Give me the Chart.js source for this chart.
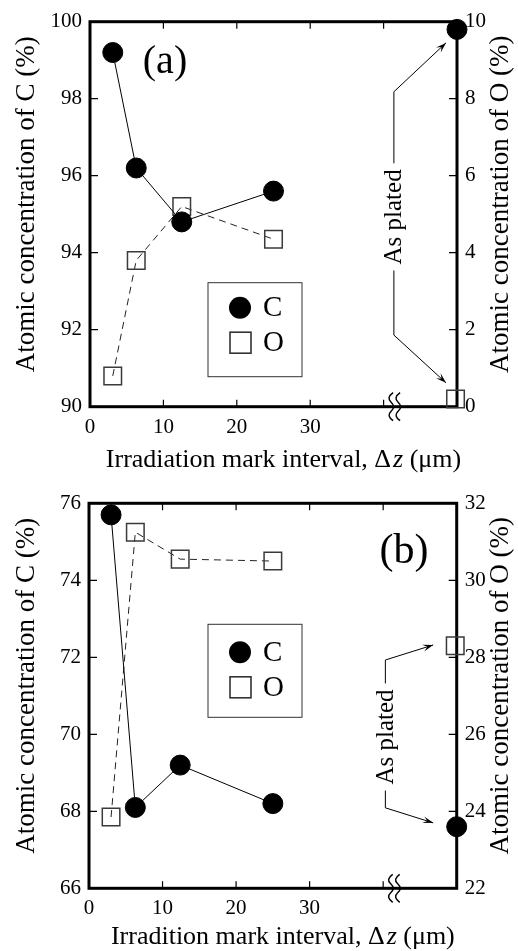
<!DOCTYPE html>
<html>
<head>
<meta charset="utf-8">
<script src="https://cdn.jsdelivr.net/npm/chart.js@4.4.1/dist/chart.umd.min.js"></script>
<style>
    html, body { margin: 0; padding: 0; background: #fff; }
    .panel { position: relative; width: 518px; }
    #panel-a { height: 475px; }
    #panel-b { height: 476px; }
</style>
</head>
<body>
<div class="panel" id="panel-a"><canvas id="chart-a"></canvas></div>
<div class="panel" id="panel-b"><canvas id="chart-b"></canvas></div>
<script>
// shared x axis
const xTicks = [0, 10, 20, 30, 40, 50];
const xTickLabels = ['0', '10', '20', '30', '', ''];

// panel (a)
const intervalsA = [3.1, 6.3, 12.5, 25];
const carbonA = [99.2, 96.2, 94.8, 95.6];
const oxygenA = [0.8, 3.8, 5.2, 4.35];
const platedCarbonXA = [50];
const platedCarbonA = [99.8];
const platedOxygenXA = [49.8];
const platedOxygenA = [0.2];
const carbonTicksA = [90, 92, 94, 96, 98, 100];
const oxygenTicksA = [0, 2, 4, 6, 8, 10];

// panel (b)
const intervalsB = [3.0, 6.3, 12.4, 25];
const carbonB = [75.7, 68.1, 69.2, 68.2];
const oxygenB = [23.85, 31.25, 30.55, 30.5];
const platedCarbonXB = [50];
const platedCarbonB = [67.6];
const platedOxygenXB = [49.8];
const platedOxygenB = [28.3];
const carbonTicksB = [66, 68, 70, 72, 74, 76];
const oxygenTicksB = [22, 24, 26, 28, 30, 32];

const SERIF = '"Liberation Serif", "DejaVu Serif", serif';

const toPoints = (xs, ys) => xs.map((x, i) => ({ x, y: ys[i] }));

// frame, inward ticks, titles, axis break, legend box, "As plated" arrows
const panelDecor = {
    id: 'panelDecor',
    beforeDatasetsDraw(chart, args, opts) {
        const { ctx, chartArea: a, scales } = chart;
        ctx.save();
        ctx.strokeStyle = '#000';
        ctx.lineWidth = 1.2;
        ctx.beginPath();
        xTicks.forEach(v => {
            if (v <= 0 || v >= 50) return;
            const px = scales.x.getPixelForValue(v);
            ctx.moveTo(px, a.bottom); ctx.lineTo(px, a.bottom - 7);
            ctx.moveTo(px, a.top); ctx.lineTo(px, a.top + 7);
        });
        opts.leftTicks.slice(1, -1).forEach(v => {
            const py = scales.y.getPixelForValue(v);
            ctx.moveTo(a.left, py); ctx.lineTo(a.left + 8, py);
        });
        opts.rightTicks.slice(1, -1).forEach(v => {
            const py = scales.y2.getPixelForValue(v);
            ctx.moveTo(a.right, py); ctx.lineTo(a.right - 8, py);
        });
        ctx.stroke();

        ctx.lineWidth = 3;
        ctx.strokeRect(a.left, a.top, a.right - a.left, a.bottom - a.top);

        // axis break on the bottom edge
        const bx = scales.x.getPixelForValue(opts.breakAt);
        ctx.lineWidth = 1.5;
        [-3.5, 3.5].forEach(dx => {
            const x = bx + dx, cy = a.bottom;
            ctx.beginPath();
            ctx.moveTo(x + 2, cy - 14);
            ctx.quadraticCurveTo(x - 5, cy - 9, x, cy - 4.5);
            ctx.quadraticCurveTo(x + 5, cy, x, cy + 4.5);
            ctx.quadraticCurveTo(x - 5, cy + 9, x + 2, cy + 14);
            ctx.stroke();
        });
        ctx.restore();
    },
    afterDatasetsDraw(chart, args, opts) {
        const { ctx, chartArea: a, scales } = chart;
        ctx.save();
        ctx.fillStyle = '#000';
        ctx.strokeStyle = '#000';

        // legend box
        const lg = opts.legend;
        const lx = a.left + lg.dx, ly = a.top + lg.dy;
        ctx.lineWidth = 1;
        ctx.strokeStyle = '#333';
        ctx.strokeRect(lx, ly, lg.w, lg.h);
        ctx.beginPath();
        ctx.arc(lx + 32, ly + lg.rowC, 11, 0, Math.PI * 2);
        ctx.fill();
        ctx.lineWidth = 1.6;
        ctx.strokeRect(lx + 22, ly + lg.rowO - 10.5, 21, 21);
        ctx.font = '29px ' + SERIF;
        ctx.textBaseline = 'middle';
        ctx.textAlign = 'left';
        ctx.fillText('C', lx + 55, ly + lg.rowC + 1);
        ctx.fillText('O', lx + 55, ly + lg.rowO + 1);

        // "As plated" label with arrows
        const an = opts.plated;
        const X = scales.x.getPixelForValue(an.x);
        const tipX = scales.x.getPixelForValue(an.tipX);
        const yTop = scales.y.getPixelForValue(an.top);
        const yBot = scales.y.getPixelForValue(an.bottom);
        const yText = scales.y.getPixelForValue(an.textY);
        const tipTop = scales.y.getPixelForValue(an.tipTop);
        const tipBot = scales.y.getPixelForValue(an.tipBottom);
        ctx.font = '25px ' + SERIF;
        const half = ctx.measureText('As plated').width / 2 + 6;
        ctx.strokeStyle = '#000';
        ctx.lineWidth = 1;
        ctx.beginPath();
        ctx.moveTo(X, yText - half); ctx.lineTo(X, yTop); ctx.lineTo(tipX, tipTop);
        ctx.moveTo(X, yText + half); ctx.lineTo(X, yBot); ctx.lineTo(tipX, tipBot);
        ctx.stroke();
        [[X, yTop, tipX, tipTop], [X, yBot, tipX, tipBot]].forEach(([x0, y0, x1, y1]) => {
            const ang = Math.atan2(y1 - y0, x1 - x0);
            ctx.beginPath();
            ctx.moveTo(x1, y1);
            ctx.lineTo(x1 - 11 * Math.cos(ang - 0.32), y1 - 11 * Math.sin(ang - 0.32));
            ctx.lineTo(x1 - 6 * Math.cos(ang), y1 - 6 * Math.sin(ang));
            ctx.lineTo(x1 - 11 * Math.cos(ang + 0.32), y1 - 11 * Math.sin(ang + 0.32));
            ctx.closePath();
            ctx.fill();
        });
        ctx.save();
        ctx.translate(X + 1, yText);
        ctx.rotate(-Math.PI / 2);
        ctx.textAlign = 'center';
        ctx.textBaseline = 'middle';
        ctx.fillText('As plated', 0, 0);
        ctx.restore();

        // panel letter
        ctx.font = opts.tag.size + 'px ' + SERIF;
        ctx.textAlign = 'center';
        ctx.textBaseline = 'middle';
        ctx.fillText(opts.tag.text, opts.tag.x, opts.tag.y);

        // axis titles
        const midY = (a.top + a.bottom) / 2 - 10;
        ctx.font = '27px ' + SERIF;
        [[27, opts.leftTitle], [501, opts.rightTitle]].forEach(([tx, text]) => {
            ctx.save();
            ctx.translate(tx, midY);
            ctx.rotate(-Math.PI / 2);
            ctx.fillText(text, 0, 0);
            ctx.restore();
        });

        const parts = [
            [opts.xTitle + ' \u0394', 'normal '],
            ['z', 'italic '],
            [' (\u03bcm)', 'normal ']
        ];
        const widths = parts.map(([t, st]) => { ctx.font = st + '26px ' + SERIF; return ctx.measureText(t).width; });
        const total = widths.reduce((s, w) => s + w, 0) + 2;
        let cx = (a.left + a.right) / 2 + 10 - total / 2;
        ctx.textAlign = 'left';
        parts.forEach(([t, st], i) => {
            ctx.font = st + '26px ' + SERIF;
            ctx.fillText(t, cx, opts.xTitleY);
            cx += widths[i] + (i === 0 ? 2 : 0);
        });
        ctx.restore();
    }
};

function buildPanel(canvasId, p) {
    const tickFont = { family: SERIF, size: 21 };
    const setTicks = arr => scale => { scale.ticks = arr.map(v => ({ value: v })); };
    const carbonStyle = {
        yAxisID: 'y', borderColor: '#000', borderWidth: 1,
        pointStyle: 'circle', pointRadius: 10, pointBorderWidth: 1,
        pointBackgroundColor: '#000', pointBorderColor: '#000', clip: false
    };
    const oxygenStyle = {
        yAxisID: 'y2', borderColor: '#222', borderWidth: 1, borderDash: [7, 5],
        pointStyle: 'rect', pointRadius: 12.4, pointBorderWidth: 1.5,
        pointBackgroundColor: 'rgba(0,0,0,0)', pointBorderColor: '#3a3a3a', clip: false
    };

    return new Chart(document.getElementById(canvasId), {
        type: 'scatter',
        data: {
            datasets: [
                { ...carbonStyle, label: 'C', showLine: true, data: toPoints(p.x, p.carbon) },
                { ...carbonStyle, label: 'C as plated', showLine: false, data: toPoints(p.platedCX, p.platedC) },
                { ...oxygenStyle, label: 'O', showLine: true, data: toPoints(p.x, p.oxygen) },
                { ...oxygenStyle, label: 'O as plated', showLine: false, data: toPoints(p.platedOX, p.platedO) }
            ]
        },
        options: {
            responsive: true,
            maintainAspectRatio: false,
            animation: false,
            events: [],
            layout: { padding: { top: p.areaTop, left: 0, right: 0, bottom: 0 } },
            plugins: {
                legend: { display: false },
                tooltip: { enabled: false },
                panelDecor: p.decor
            },
            scales: {
                x: {
                    type: 'linear', position: 'bottom', min: 0, max: 50,
                    afterBuildTicks: setTicks(xTicks),
                    afterFit: s => { s.height = p.xHeight; },
                    grid: { display: false, drawTicks: false },
                    border: { display: false },
                    ticks: {
                        font: tickFont, color: '#000', padding: 8, maxRotation: 0, autoSkip: false,
                        callback: v => xTickLabels[xTicks.indexOf(v)]
                    }
                },
                y: {
                    type: 'linear', position: 'left', min: p.leftTicks[0], max: p.leftTicks[p.leftTicks.length - 1],
                    afterBuildTicks: setTicks(p.leftTicks),
                    afterFit: s => { s.width = p.leftWidth; },
                    grid: { display: false, drawTicks: false },
                    border: { display: false },
                    ticks: { font: tickFont, color: '#000', padding: 8 }
                },
                y2: {
                    type: 'linear', position: 'right', min: p.rightTicks[0], max: p.rightTicks[p.rightTicks.length - 1],
                    afterBuildTicks: setTicks(p.rightTicks),
                    afterFit: s => { s.width = p.rightWidth; },
                    grid: { display: false, drawTicks: false },
                    border: { display: false },
                    ticks: { font: tickFont, color: '#000', padding: 8 }
                }
            }
        },
        plugins: [panelDecor]
    });
}

buildPanel('chart-a', {
    x: intervalsA, carbon: carbonA, oxygen: oxygenA,
    platedCX: platedCarbonXA, platedC: platedCarbonA,
    platedOX: platedOxygenXA, platedO: platedOxygenA,
    leftTicks: carbonTicksA, rightTicks: oxygenTicksA,
    areaTop: 21.7, leftWidth: 90, rightWidth: 61, xHeight: 68.3,
    decor: {
        leftTicks: carbonTicksA, rightTicks: oxygenTicksA,
        breakAt: 41.5,
        legend: { dx: 118, dy: 261, w: 94, h: 94, rowC: 25, rowO: 60 },
        plated: { x: 41.4, top: 98.18, bottom: 91.86, textY: 94.93, tipX: 48.5, tipTop: 99.45, tipBottom: 90.62 },
        tag: { text: '(a)', x: 165, y: 62, size: 40 },
        leftTitle: 'Atomic concentration of C (%)',
        rightTitle: 'Atomic concentration of O (%)',
        xTitle: 'Irradiation mark interval,',
        xTitleY: 460
    }
});

buildPanel('chart-b', {
    x: intervalsB, carbon: carbonB, oxygen: oxygenB,
    platedCX: platedCarbonXB, platedC: platedCarbonB,
    platedOX: platedOxygenXB, platedO: platedOxygenB,
    leftTicks: carbonTicksB, rightTicks: oxygenTicksB,
    areaTop: 28.3, leftWidth: 89, rightWidth: 61.3, xHeight: 62.7,
    decor: {
        leftTicks: carbonTicksB, rightTicks: oxygenTicksB,
        breakAt: 41.5,
        legend: { dx: 119, dy: 121, w: 94, h: 93, rowC: 28, rowO: 63 },
        plated: { x: 40.3, top: 71.93, bottom: 68.09, textY: 69.93, tipX: 46.8, tipTop: 72.32, tipBottom: 67.7 },
        tag: { text: '(b)', x: 404, y: 77, size: 42 },
        leftTitle: 'Atomic concentration of C (%)',
        rightTitle: 'Atomic concentration of O (%)',
        xTitle: 'Irradition mark interval,',
        xTitleY: 461.7
    }
});
</script>
</body>
</html>
